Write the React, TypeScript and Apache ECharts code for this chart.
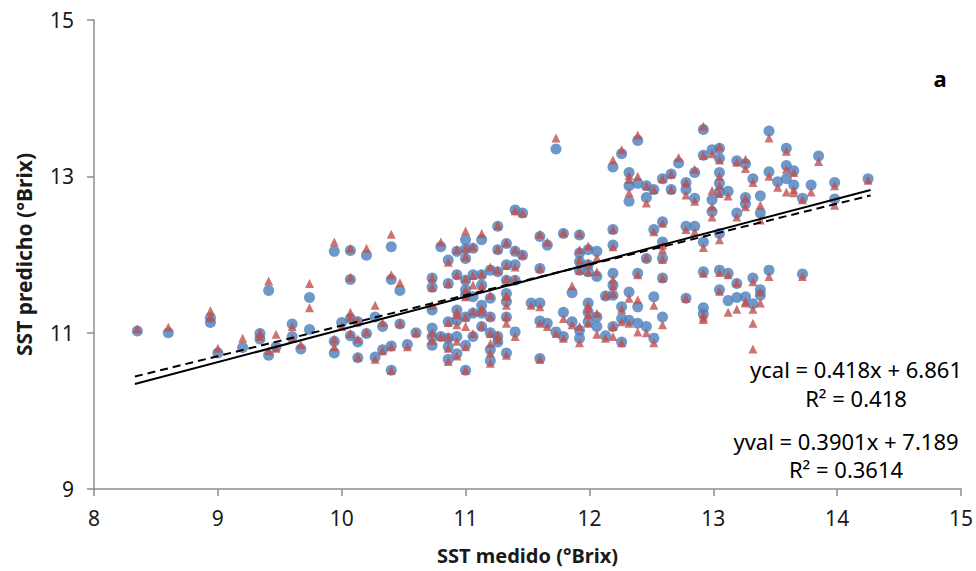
import React, { useEffect, useRef } from "react";
import * as echarts from "echarts";

// Measured SST (°Brix) columns
const colX = [8.35, 8.6, 8.94, 9.0, 9.2, 9.34, 9.41, 9.47, 9.6, 9.67, 9.74, 9.94, 10.0, 10.07, 10.13, 10.2, 10.27, 10.33, 10.4, 10.47, 10.53, 10.6, 10.73, 10.8, 10.86, 10.93, 11.0, 11.06, 11.13, 11.2, 11.26, 11.33, 11.4, 11.46, 11.53, 11.6, 11.66, 11.73, 11.79, 11.86, 11.92, 11.99, 12.06, 12.13, 12.19, 12.26, 12.32, 12.39, 12.46, 12.52, 12.59, 12.66, 12.72, 12.78, 12.85, 12.92, 12.99, 13.05, 13.12, 13.19, 13.26, 13.32, 13.38, 13.45, 13.52, 13.59, 13.65, 13.72, 13.79, 13.85, 13.98, 14.25];

// Predicted SST, calibration (blue circles), one list per column
const calY = [
  [11.02], [11.0], [11.19, 11.13], [10.74], [10.81], [10.99, 10.92], [11.54, 10.71], [10.82],
  [11.11, 10.95], [10.79], [11.45, 11.04], [12.04, 10.89, 10.74], [11.13], [12.05, 11.68, 11.18, 10.96],
  [11.14, 10.88, 10.68], [11.99, 10.99], [11.2, 10.69], [11.08, 10.78], [12.1, 11.68, 10.83, 10.52],
  [11.54, 11.11], [10.85], [11.0], [11.7, 11.58, 11.29, 11.06, 10.95, 10.84], [12.1, 10.95],
  [11.93, 11.63, 11.14, 10.93, 10.82, 10.66], [12.04, 11.74, 11.29, 11.16, 10.95, 10.73],
  [12.19, 12.07, 11.95, 11.67, 11.55, 11.48, 11.2, 10.84, 10.52], [12.08, 11.74, 11.46, 11.25, 10.95],
  [12.19, 11.74, 11.61, 11.35, 11.25, 11.08], [11.8, 11.44, 11.2, 11.0, 10.78, 10.64],
  [12.36, 12.06, 11.78, 10.95, 10.88], [12.14, 11.87, 11.67, 11.5, 11.4, 11.2, 10.74],
  [12.57, 12.04, 11.87, 11.67, 11.01], [12.53, 11.99], [11.38], [12.23, 11.82, 11.38, 11.15, 10.67],
  [12.12, 11.12], [13.35, 11.01], [12.27, 11.26, 10.95], [11.51, 11.14],
  [12.25, 12.02, 11.91, 11.8, 11.03, 10.93], [12.06, 11.87, 11.78, 11.38, 11.26, 11.14],
  [12.04, 11.72, 11.2, 11.08], [11.47, 10.96], [13.12, 12.32, 12.12, 11.76, 11.61, 11.48, 11.08],
  [13.29, 11.33, 11.18, 10.88], [13.05, 12.88, 12.68, 11.52, 11.16], [13.46, 12.91, 11.76, 11.33, 11.12],
  [12.88, 12.73, 11.95, 11.08], [12.83, 12.32, 11.46, 10.93], [12.97, 12.42, 12.16, 11.95, 11.7, 11.2],
  [13.03, 12.83], [13.17], [12.92, 12.83, 12.36, 11.44], [13.05, 12.72, 12.36],
  [13.6, 13.27, 12.16, 11.78, 11.32, 11.24], [13.34, 12.7, 12.55],
  [13.36, 13.23, 13.05, 12.91, 12.8, 12.27, 11.8, 11.55], [12.81, 11.76, 11.41], [13.2, 12.53, 11.63, 11.45],
  [13.16, 12.73, 12.65, 11.46], [12.97, 11.7, 11.37], [12.75, 12.53, 11.55, 11.48], [13.58, 13.06, 11.8],
  [12.93], [13.36, 13.14, 12.97], [13.07, 12.89], [12.72, 11.75], [12.89], [13.26], [12.92, 12.71], [12.97],
];

// Predicted SST, validation (red triangles), one list per column
const valY = [
  [11.05], [11.07], [11.28, 11.2], [10.8], [10.93], [11.0, 10.95], [11.66, 10.77], [10.98, 10.8],
  [11.08, 10.93], [10.85], [11.63, 11.32], [12.16, 10.92, 10.82], [11.08], [12.08, 11.71, 11.26, 11.2, 10.99],
  [11.16, 10.92, 10.69], [12.08, 11.01], [11.35, 10.66], [11.13, 10.77], [12.26, 11.74, 10.82, 10.52],
  [11.64, 11.12], [10.82], [11.0], [11.7, 11.58, 11.35, 11.0, 10.9], [12.16, 10.95],
  [11.9, 11.63, 11.13, 10.95, 10.8, 10.63], [12.06, 11.74, 11.27, 11.23, 11.1, 10.89, 10.7],
  [12.3, 12.08, 11.97, 11.69, 11.55, 11.46, 11.2, 11.08, 10.82, 10.52], [12.1, 11.73, 11.61, 11.27, 10.99],
  [12.27, 11.75, 11.6, 11.31, 11.27, 11.09], [11.84, 11.48, 11.21, 10.99, 10.86, 10.74, 10.61],
  [12.37, 12.07, 11.8, 10.97, 10.91], [12.15, 11.86, 11.69, 11.48, 11.46, 11.35, 11.21, 11.12, 10.71],
  [12.56, 12.06, 11.84, 11.68, 10.95], [12.53, 12.0], [11.35], [12.26, 11.82, 11.33, 11.12, 10.66],
  [12.16, 11.08], [13.49, 10.99], [12.28, 11.18, 10.93], [11.6, 11.1],
  [12.27, 12.06, 11.93, 11.8, 11.08, 10.87], [12.11, 11.89, 11.78, 11.35, 11.31, 11.23, 11.12],
  [11.96, 11.78, 11.25, 10.98], [11.48, 10.93], [13.21, 12.32, 12.1, 11.68, 11.6, 11.5, 11.08, 10.95],
  [13.34, 11.3, 11.14, 10.87], [13.01, 12.96, 12.79, 11.44, 11.12], [13.53, 13.0, 11.74, 11.42, 11.01],
  [12.88, 12.66, 11.96, 11.0], [12.83, 12.29, 11.35, 10.87], [12.97, 12.4, 12.12, 12.06, 11.94, 11.7, 11.1],
  [13.03, 12.83], [13.24], [12.92, 12.76, 12.32, 11.44], [13.09, 12.68, 12.29],
  [13.64, 13.27, 12.09, 11.76, 11.23, 11.19, 11.17], [13.29, 12.82, 12.61, 12.48],
  [13.38, 13.21, 13.0, 12.88, 12.78, 12.19, 11.77, 11.53], [12.75, 11.74, 11.26], [13.18, 12.48, 11.64, 11.3],
  [13.22, 13.1, 12.72, 12.61, 11.4, 11.38], [12.92, 11.65, 11.3, 11.12, 10.79], [12.63, 12.44, 11.52, 11.38],
  [13.49, 13.0, 11.72], [12.86], [13.32, 13.09, 12.8], [13.05, 12.83, 12.79], [12.7, 11.72], [12.8], [13.19],
  [12.88, 12.63], [12.95],
];

// Trend lines (from the stated equations)
const calFit = { slope: 0.418, intercept: 6.861 };
const valFit = { slope: 0.3901, intercept: 7.189 };
const fitRange = [8.33, 14.27];

const calEquation = ["ycal = 0.418x + 6.861", "R² = 0.418"];
const valEquation = ["yval = 0.3901x + 7.189", "R² = 0.3614"];
const panelLabel = "a";
const xTitle = "SST medido (°Brix)";
const yTitle = "SST predicho (°Brix)";

const FONT = "'Noto Sans', 'Open Sans', sans-serif";

function toPoints(xs: number[], ys: number[][]) {
  const pts: number[][] = [];
  xs.forEach((x, i) => (ys[i] || []).forEach((y) => pts.push([x, y])));
  return pts;
}

function fitLine(f: { slope: number; intercept: number }) {
  return fitRange.map((x) => [x, f.slope * x + f.intercept]);
}

export default function App() {
  const ref = useRef<HTMLDivElement>(null);
  useEffect(() => {
    if (!ref.current) return;
    const chart = echarts.init(ref.current, undefined, { renderer: "svg" });
    const axisColor = "#8c8c8c";
    const eqStyle = (lines: string[], lh: number) => ({
      text: lines.join("\n"),
      fontSize: 22,
      lineHeight: lh,
      fontFamily: FONT,
      fill: "#000",
      align: "center",
      verticalAlign: "middle",
    });
    chart.setOption({
      animation: false,
      backgroundColor: "#ffffff",
      grid: { left: 94, right: 15, top: 20, bottom: 82 },
      xAxis: {
        type: "value",
        min: 8,
        max: 15,
        interval: 1,
        axisLine: { show: true, lineStyle: { color: axisColor, width: 1.5 } },
        axisTick: { show: true, inside: false, length: 7, lineStyle: { color: axisColor, width: 1.5 } },
        splitLine: { show: false },
        axisLabel: { color: "#1a1a1a", fontSize: 21, margin: 18, fontFamily: FONT },
        name: xTitle,
        nameLocation: "middle",
        nameGap: 56,
        nameTextStyle: { color: "#1a1a1a", fontSize: 20, fontWeight: "bold", fontFamily: FONT },
      },
      yAxis: {
        type: "value",
        min: 9,
        max: 15,
        interval: 2,
        axisLine: { show: true, lineStyle: { color: axisColor, width: 1.5 } },
        axisTick: { show: true, inside: false, length: 7, lineStyle: { color: axisColor, width: 1.5 } },
        splitLine: { show: false },
        axisLabel: { color: "#1a1a1a", fontSize: 21, margin: 20, fontFamily: FONT },
        name: yTitle,
        nameLocation: "middle",
        nameGap: 60,
        nameRotate: 90,
        nameTextStyle: { color: "#1a1a1a", fontSize: 21, fontWeight: "bold", fontFamily: FONT },
      },
      series: [
        {
          type: "scatter",
          name: "cal",
          data: toPoints(colX, calY),
          symbol: "circle",
          symbolSize: 11,
          itemStyle: { color: "#4a7ebb" },
          z: 2,
        },
        {
          type: "scatter",
          name: "val",
          data: toPoints(colX, valY),
          symbol: "triangle",
          symbolSize: 9,
          itemStyle: { color: "#c0504d" },
          z: 3,
        },
        {
          type: "line",
          data: fitLine(calFit),
          symbol: "none",
          lineStyle: { color: "#000000", width: 2 },
          z: 4,
        },
        {
          type: "line",
          data: fitLine(valFit),
          symbol: "none",
          lineStyle: { color: "#000000", width: 2, type: [8, 5] },
          z: 4,
        },
      ],
      graphic: [
        {
          type: "text",
          x: 940,
          y: 78,
          style: { text: panelLabel, fontSize: 22, fontWeight: "bold", fontFamily: FONT, fill: "#000", align: "center", verticalAlign: "middle" },
        },
        { type: "text", x: 856, y: 383, style: eqStyle(calEquation, 29) },
        { type: "text", x: 846, y: 455, style: eqStyle(valEquation, 28) },
      ],
    });
    return () => chart.dispose();
  }, []);
  return <div ref={ref} style={{ width: 976, height: 571, position: "absolute", left: 0, top: 0 }} />;
}
